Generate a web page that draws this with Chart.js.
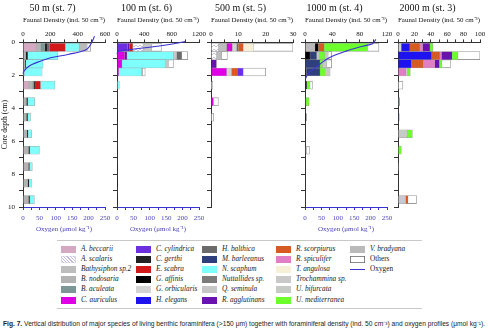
<!DOCTYPE html>
<html lang="en">
<head>
<meta charset="UTF-8">
<title>Fig. 7 - Foraminifera and oxygen profiles</title>
<script src="https://cdn.jsdelivr.net/npm/chart.js"></script>
<style>
  body { margin: 0; width: 488px; height: 330px; background: #fff; position: relative; overflow: hidden;
         font-family: "Liberation Serif", "DejaVu Serif", serif; }
  canvas.panel { position: absolute; top: 0; }
  #leyenda { position: absolute; left: 57px; top: 240px; width: 365px; height: 67px;
             border-top: 1px solid #c8c8c8; border-bottom: 1px solid #c8c8c8; }
  .item { position: absolute; font-style: italic; font-size: 7.3px; line-height: 8px; white-space: nowrap; color: #222; }
  .caja { position: absolute; width: 15px; height: 7px; }
  #pie { position: absolute; left: 3px; top: 319px; font-family: "Liberation Sans Narrow", "Liberation Sans", sans-serif;
         font-size: 6.6px; white-space: nowrap; color: #222; transform-origin: 0 0; }
</style>
</head>
<body>
<div id="leyenda"></div>
<div id="pie"><b>Fig. 7.</b> Vertical distribution of major species of living benthic foraminifera (&gt;150 μm) together with foraminiferal density (ind. 50 cm⁻³) and oxygen profiles (μmol kg⁻¹).</div>

<script>
  // depth of each sample row (cm); 0-0.5, 0.5-1, 1-1.5, 1.5-2, then 1 cm slices down to 10 cm
  const depthMid = [0.3, 0.8, 1.3, 1.8, 2.6, 3.6, 4.55, 5.55, 6.55, 7.55, 8.55, 9.55];

  // faunal density (ind. 50 cm-3), one row per species, in stacking order
  const st7 = [
    ['A. beccarii',     [95, 0, 0, 0, 40, 0, 0, 0, 0, 0, 0, 0]],
    ['B. nodosaria',    [35, 20, 15, 10, 30, 25, 25, 30, 40, 40, 35, 40]],
    ['B. aculeata',     [30, 0, 0, 0, 8, 0, 0, 0, 0, 0, 0, 0]],
    ['C. gerthi',       [20, 15, 6, 0, 10, 10, 10, 8, 10, 8, 10, 10]],
    ['H. balthica',     [15, 0, 0, 0, 0, 0, 0, 0, 0, 0, 0, 0]],
    ['E. scabra',       [115, 0, 0, 0, 40, 0, 0, 0, 0, 0, 0, 0]],
    ['N. scaphum',      [100, 220, 125, 130, 105, 50, 20, 25, 70, 20, 20, 33]],
    ['V. bradyana',     [60, 0, 0, 0, 0, 0, 0, 0, 0, 0, 0, 0]],
    ['Others',          [25, 0, 0, 0, 0, 0, 0, 0, 0, 0, 0, 0]]
  ];
  const st6 = [
    ['C. cylindrica',   [155, 0, 0, 0, 0, 0, 0, 0, 0, 0, 0, 0]],
    ['C. auriculus',    [0, 112, 73, 24, 0, 0, 0, 0, 0, 0, 0, 0]],
    ['R. agglutinans',  [25, 34, 0, 0, 0, 0, 0, 0, 0, 0, 0, 0]],
    ['E. scabra',       [50, 0, 0, 0, 0, 0, 0, 0, 0, 0, 0, 0]],
    ['G. affinis',      [0, 0, 0, 0, 0, 8, 6, 8, 6, 8, 10, 8]],
    ['N. scaphum',      [0, 680, 631, 331, 34, 0, 0, 0, 0, 0, 0, 0]],
    ['A. scalaris',     [150, 0, 0, 0, 0, 0, 0, 0, 0, 0, 0, 0]],
    ['Q. seminula',     [130, 49, 49, 20, 0, 0, 0, 0, 0, 0, 0, 0]],
    ['H. balthica',     [0, 73, 0, 0, 0, 0, 0, 0, 0, 0, 0, 0]],
    ['Others',          [140, 87, 73, 38, 0, 0, 0, 0, 0, 0, 0, 0]]
  ];
  const st5 = [
    ['A. scalaris',     [2.7, 2, 0, 0, 0, 0, 0, 0, 0, 0, 0, 0]],
    ['Bathysiphon sp.2',[3, 1.9, 0, 0, 0, 0, 0, 0, 0, 0, 0, 0]],
    ['R. agglutinans',  [0, 0, 2, 0, 0, 0, 0, 0, 0, 0, 0, 0]],
    ['C. auriculus',    [2.1, 0, 0, 5.7, 0, 0.9, 0, 0, 0, 0, 0, 0]],
    ['G. orbicularis',  [1.6, 0, 0, 1.8, 0, 0, 0, 0, 0, 0, 0, 0]],
    ['H. balthica',     [0.6, 0, 0, 0, 0, 0, 0, 0, 0, 0, 0, 0]],
    ['R. scorpiurus',   [1.8, 0, 0, 2.1, 0, 0, 0, 0, 0, 0, 0, 0]],
    ['C. cylindrica',   [0, 0, 0, 2.2, 0, 0, 0, 0, 0, 0, 0, 0]],
    ['T. angulosa',     [3.7, 0, 0, 0, 0, 0, 0, 0, 0, 0, 0, 0]],
    ['Others',          [14.5, 2.1, 0, 8.2, 0.6, 1.8, 1, 0, 0, 0, 0, 0]]
  ];
  const st4 = [
    ['V. bradyana',     [14.7, 0, 0, 0, 0, 0, 0, 0, 0, 0, 0, 0]],
    ['G. affinis',      [5, 7.4, 0, 2, 2.5, 0, 2, 0, 0, 0, 0, 0]],
    ['H. balthica',     [0, 0, 0, 0, 0, 1.5, 0, 0, 2, 0, 0, 0]],
    ['M. barleeanus',   [0, 9.6, 22, 20, 0, 0, 0, 0, 0, 0, 0, 0]],
    ['Q. seminula',     [0, 3.4, 0, 0, 0, 0, 0, 0, 0, 0, 0, 0]],
    ['R. scorpiurus',   [8.5, 0, 0, 0, 0, 0, 0, 0, 0, 0, 0, 0]],
    ['U. mediterranea', [64, 8.6, 3.5, 7.4, 5, 4.4, 0, 0, 0, 0, 0, 0]],
    ['U. bifurcata',    [0, 5, 6.5, 7.4, 0, 0, 0, 0, 0, 0, 0, 0]],
    ['Others',          [16, 5, 7, 0, 3.4, 0, 0, 0, 4.5, 0, 0, 0]]
  ];
  const st3 = [
    ['G. orbicularis',  [4, 0, 0, 0, 0, 0, 0, 0, 0, 0, 0, 0]],
    ['B. aculeata',     [0, 0, 0, 0, 0, 2, 0, 0, 0, 0, 0, 0]],
    ['M. barleeanus',   [0, 0, 0, 0, 0, 0, 1.5, 0, 0, 0, 0, 0]],
    ['H. elegans',      [10.4, 41, 16.5, 0, 0, 0, 0, 0, 0, 0, 0, 0]],
    ['R. spiculifer',   [0, 0, 0, 9.5, 0, 0, 0, 0, 0, 0, 0, 0]],
    ['Trochammina sp.', [0, 0, 0, 2.5, 0, 0, 0, 11, 0, 0.6, 0, 9.5]],
    ['R. scorpiurus',   [12.3, 10, 14.5, 0, 0, 0, 0, 0, 0, 0, 0, 2.8]],
    ['R. spiculifer',   [3.3, 2, 14, 0, 0, 0, 0, 0, 0, 0, 0, 0]],
    ['R. agglutinans',  [9, 13, 5.5, 0, 0, 0, 0, 0, 0, 0, 0, 0]],
    ['U. mediterranea', [3.4, 7, 3, 3, 0, 0, 0, 6.5, 4, 0, 0, 0]],
    ['Others',          [0, 27, 10.5, 0, 6, 0, 0, 0, 0, 0, 0, 10.3]]
  ];

  // oxygen profiles (umol kg-1) against depth (cm); negative depth = bottom water
  const o2Depth7 = [-0.38, 0.02, 0.43, 0.73, 0.93, 1.14, 1.34, 1.54, 1.75, 1.9];
  const o2Value7 = [218, 209, 194, 137, 84, 53, 27, 12, 3, 0];
  const o2Depth6 = [-0.45, -0.05, 0.55, 0.7];
  const o2Value6 = [217, 208, 4, 0];
  const o2Depth4 = [-0.18, 0.08, 0.23, 0.53, 0.93, 1.34, 1.65, 1.95, 2.2];
  const o2Value4 = [216, 206, 176, 125, 74, 44, 23.5, 8, 2];

  const species = [
    'A. beccarii', 'A. scalaris', 'Bathysiphon sp.2', 'B. nodosaria', 'B. aculeata', 'C. auriculus',
    'C. cylindrica', 'C. gerthi', 'E. scabra', 'G. affinis', 'G. orbicularis', 'H. elegans',
    'H. balthica', 'M. barleeanus', 'N. scaphum', 'Nuttallides sp.', 'Q. seminula', 'R. agglutinans',
    'R. scorpiurus', 'R. spiculifer', 'T. angulosa', 'Trochammina sp.', 'U. bifurcata', 'U. mediterranea',
    'V. bradyana', 'Others'
  ];
  const colores = {
    'A. beccarii': '#d6a9c3', 'A. scalaris': '#ece8f4', 'Bathysiphon sp.2': '#bdbdbd', 'B. nodosaria': '#b3b3b3',
    'B. aculeata': '#7d9797', 'C. auriculus': '#e000e6', 'C. cylindrica': '#6d2fe2', 'C. gerthi': '#232323',
    'E. scabra': '#d01a1a', 'G. affinis': '#000000', 'G. orbicularis': '#d3d3d3', 'H. elegans': '#1e12ee',
    'H. balthica': '#6b6b6b', 'M. barleeanus': '#2f3f7e', 'N. scaphum': '#80ffff', 'Nuttallides sp.': '#7b7b7b',
    'Q. seminula': '#c6c6c6', 'R. agglutinans': '#6a12b0', 'R. scorpiurus': '#d65a24', 'R. spiculifer': '#e07fc6',
    'T. angulosa': '#f6f0d6', 'Trochammina sp.': '#c9c9c9', 'U. bifurcata': '#c5cac5', 'U. mediterranea': '#6cff2c',
    'V. bradyana': '#bababa', 'Others': '#ffffff'
  };
  const azulO2 = '#3a33d4';
  const serif = '"Liberation Serif", serif';

  // zigzag fill used for A. scalaris
  function patronScalaris() {
    const c = document.createElement('canvas');
    c.width = 4; c.height = 4;
    const g = c.getContext('2d');
    g.fillStyle = '#ffffff'; g.fillRect(0, 0, 4, 4);
    g.strokeStyle = '#b9b0d6'; g.lineWidth = 0.8;
    g.beginPath(); g.moveTo(0, 3); g.lineTo(2, 1); g.lineTo(4, 3); g.stroke();
    return g.createPattern(c, 'repeat');
  }
  const relleno = Object.assign({}, colores, { 'A. scalaris': patronScalaris() });

  const paneles = [
    { left: 23,  title: '50 m (st. 7)',   data: st7, max: 600,  step: 100, labelStep: 200, o2: [o2Depth7, o2Value7] },
    { left: 117, title: '100 m (st. 6)',  data: st6, max: 1200, step: 200, labelStep: 400, o2: [o2Depth6, o2Value6] },
    { left: 211, title: '500 m (st. 5)',  data: st5, max: 30,   step: 5,   labelStep: 10,  o2: null },
    { left: 305, title: '1000 m (st. 4)', data: st4, max: 120,  step: 20,  labelStep: 40,  o2: [o2Depth4, o2Value4] },
    { left: 398, title: '2000 m (st. 3)', data: st3, max: 100,  step: 10,  labelStep: 20,  o2: null }
  ];

  paneles.forEach((p, i) => {
    const canvas = document.createElement('canvas');
    canvas.className = 'panel';
    canvas.style.left = (p.left - 23) + 'px';
    canvas.width = 128; canvas.height = 233;
    document.body.appendChild(canvas);

    const datasets = p.data.map(([nombre, vals]) => ({
      type: 'bar',
      label: nombre,
      data: vals.map((v, k) => ({ x: v, y: depthMid[k] })).filter(d => d.x > 0),
      backgroundColor: relleno[nombre],
      borderColor: nombre === 'Others' ? '#9a9a9a' : 'rgba(90,90,90,0.55)',
      borderWidth: nombre === 'Others' ? 0.8 : 0.5,
      barThickness: 8,
      xAxisID: 'x',
      yAxisID: 'y'
    }));
    if (p.o2) {
      datasets.push({
        type: 'line',
        label: 'Oxygen',
        order: -1,
        indexAxis: 'y',
        data: p.o2[0].map((d, k) => ({ x: p.o2[1][k], y: d })),
        borderColor: azulO2,
        borderWidth: 1.1,
        pointRadius: 0,
        tension: 0.35,
        clip: false,
        xAxisID: 'x2',
        yAxisID: 'y'
      });
    }

    const tinta = p.o2 ? azulO2 : 'rgba(0,0,0,0)';
    new Chart(canvas, {
      type: 'bar',
      data: { datasets },
      options: {
        indexAxis: 'y',
        responsive: false,
        animation: false,
        layout: { padding: { left: 0, right: 23, top: 0, bottom: 0 } },
        plugins: {
          legend: { display: false },
          tooltip: { enabled: false },
          title: {
            display: true, text: p.title, color: '#111',
            font: { family: serif, size: 10, weight: 'normal' },
            padding: { top: 2, bottom: 0 }
          }
        },
        scales: {
          x: {
            type: 'linear', position: 'top', min: 0, max: p.max, stacked: true,
            afterFit: s => { s.height = 28.4; },
            border: { color: '#333', width: 1 },
            grid: { drawOnChartArea: false, tickLength: 3, color: '#333' },
            ticks: {
              stepSize: p.step, autoSkip: false, maxRotation: 0, padding: 1, color: '#111',
              font: { family: serif, size: 7 },
              callback: v => (v % p.labelStep === 0 ? v : '')
            },
            title: {
              display: true, text: 'Faunal Density (ind. 50 cm⁻³)', color: '#111',
              font: { family: serif, size: 7 }, padding: { top: 1.5, bottom: 0 }
            }
          },
          x2: {
            type: 'linear', position: 'bottom', min: 0, max: 250,
            afterFit: s => { s.height = 26; },
            border: { color: tinta, width: 1 },
            grid: { drawOnChartArea: false, tickLength: 3, color: tinta },
            ticks: {
              display: !!p.o2, stepSize: 25, autoSkip: false, maxRotation: 0, padding: 4, color: '#4a44b8',
              font: { family: serif, size: 7 },
              callback: v => (v % 50 === 0 ? v : '')
            },
            title: {
              display: !!p.o2, text: 'Oxygen (μmol kg⁻¹)', color: '#4a44b8',
              font: { family: serif, size: 7 }, padding: { top: 0, bottom: 0 }
            }
          },
          y: {
            type: 'linear', position: 'left', min: 0, max: 10, reverse: true, stacked: true,
            offset: false,
            afterFit: s => { s.width = 23; },
            border: { color: '#333', width: 1 },
            grid: { drawOnChartArea: false, tickLength: 4, color: '#333', offset: false },
            ticks: {
              stepSize: 1, autoSkip: false, padding: 4, color: '#111',
              font: { family: serif, size: 7 },
              callback: v => (i === 0 && v % 2 === 0 ? v : '')
            },
            title: {
              display: i === 0, text: 'Core depth (cm)', color: '#111',
              font: { family: serif, size: 7.5 }, padding: { top: 1, bottom: 0 }
            }
          }
        }
      }
    });
  });

  // legend: five columns of six rows
  const leyenda = document.getElementById('leyenda');
  const colX = [4, 79, 145, 219, 293];
  const entradas = species.concat(['Oxygen']);
  entradas.forEach((nombre, k) => {
    const col = Math.floor(k / 6), fila = k % 6;
    const cy = 8 + fila * 10.2;
    const caja = document.createElement('div');
    caja.className = 'caja';
    caja.style.left = colX[col] + 'px';
    caja.style.top = (cy - 3.5) + 'px';
    if (nombre === 'Oxygen') {
      caja.style.height = '0px';
      caja.style.top = cy + 'px';
      caja.style.borderTop = '1.2px solid ' + azulO2;
    } else if (nombre === 'A. scalaris') {
      caja.style.background = 'repeating-linear-gradient(45deg, #fff 0 1.5px, #c2badc 1.5px 2.3px), #fff';
      caja.style.boxShadow = 'inset 0 0 0 0.6px #d0cbe4';
    } else {
      caja.style.background = colores[nombre];
      if (nombre === 'Others') caja.style.boxShadow = 'inset 0 0 0 0.8px #666';
    }
    leyenda.appendChild(caja);
    const txt = document.createElement('div');
    txt.className = 'item';
    txt.textContent = nombre;
    if (nombre === 'Others' || nombre === 'Oxygen') txt.style.fontStyle = 'normal';
    txt.style.left = (colX[col] + 20) + 'px';
    txt.style.top = (cy - 4.5) + 'px';
    leyenda.appendChild(txt);
  });

  // fit the caption to the page width
  const pie = document.getElementById('pie');
  pie.style.transform = 'scaleX(' + (482 / pie.scrollWidth) + ')';
</script>
</body>
</html>
